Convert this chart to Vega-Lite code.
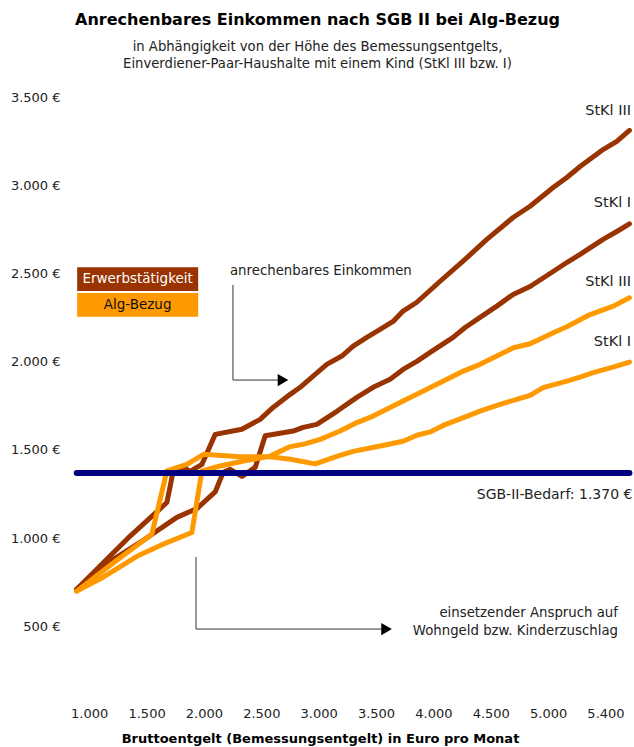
{
  "$schema": "https://vega.github.io/schema/vega-lite/v6.json",
  "width": 561,
  "height": 600,
  "autosize": "none",
  "padding": {"left": 72, "top": 97, "right": 1, "bottom": 50},
  "background": "white",
  "config": {"view": {"stroke": null}, "font": "DejaVu Sans"},
  "title": {
    "text": "Anrechenbares Einkommen nach SGB II bei Alg-Bezug",
    "subtitle": ["in Abhängigkeit von der Höhe des Bemessungsentgelts,", "Einverdiener-Paar-Haushalte mit einem Kind (StKl III bzw. I)"],
    "anchor": "middle",
    "frame": "group",
    "dx": -35,
    "offset": 21,
    "font": "DejaVu Sans",
    "fontSize": 16,
    "fontWeight": "bold",
    "color": "#000000",
    "subtitleFont": "DejaVu Sans",
    "subtitleFontSize": 13.2,
    "subtitleColor": "#222222",
    "subtitlePadding": 13,
    "subtitleLineHeight": 17
  },
  "data": {"values": [{}]},
  "datasets": {
    "lines": [
      {"kind": "Erwerbstätigkeit", "series": "Erwerbstätigkeit StKl III", "x": 891, "y": 711},
      {"kind": "Erwerbstätigkeit", "series": "Erwerbstätigkeit StKl III", "x": 1357, "y": 1012},
      {"kind": "Erwerbstätigkeit", "series": "Erwerbstätigkeit StKl III", "x": 1677, "y": 1202},
      {"kind": "Erwerbstätigkeit", "series": "Erwerbstätigkeit StKl III", "x": 1732, "y": 1379},
      {"kind": "Erwerbstätigkeit", "series": "Erwerbstätigkeit StKl III", "x": 1819, "y": 1401},
      {"kind": "Erwerbstätigkeit", "series": "Erwerbstätigkeit StKl III", "x": 1880, "y": 1379},
      {"kind": "Erwerbstätigkeit", "series": "Erwerbstätigkeit StKl III", "x": 1982, "y": 1418},
      {"kind": "Erwerbstätigkeit", "series": "Erwerbstätigkeit StKl III", "x": 2098, "y": 1588},
      {"kind": "Erwerbstätigkeit", "series": "Erwerbstätigkeit StKl III", "x": 2331, "y": 1617},
      {"kind": "Erwerbstätigkeit", "series": "Erwerbstätigkeit StKl III", "x": 2490, "y": 1673},
      {"kind": "Erwerbstätigkeit", "series": "Erwerbstätigkeit StKl III", "x": 2603, "y": 1741},
      {"kind": "Erwerbstätigkeit", "series": "Erwerbstätigkeit StKl III", "x": 2752, "y": 1815},
      {"kind": "Erwerbstätigkeit", "series": "Erwerbstätigkeit StKl III", "x": 2839, "y": 1855},
      {"kind": "Erwerbstätigkeit", "series": "Erwerbstätigkeit StKl III", "x": 2952, "y": 1918},
      {"kind": "Erwerbstätigkeit", "series": "Erwerbstätigkeit StKl III", "x": 3071, "y": 1985},
      {"kind": "Erwerbstätigkeit", "series": "Erwerbstätigkeit StKl III", "x": 3202, "y": 2032},
      {"kind": "Erwerbstätigkeit", "series": "Erwerbstätigkeit StKl III", "x": 3301, "y": 2088},
      {"kind": "Erwerbstätigkeit", "series": "Erwerbstätigkeit StKl III", "x": 3420, "y": 2138},
      {"kind": "Erwerbstätigkeit", "series": "Erwerbstätigkeit StKl III", "x": 3536, "y": 2183},
      {"kind": "Erwerbstätigkeit", "series": "Erwerbstätigkeit StKl III", "x": 3649, "y": 2228},
      {"kind": "Erwerbstätigkeit", "series": "Erwerbstätigkeit StKl III", "x": 3736, "y": 2287},
      {"kind": "Erwerbstätigkeit", "series": "Erwerbstätigkeit StKl III", "x": 3856, "y": 2337},
      {"kind": "Erwerbstätigkeit", "series": "Erwerbstätigkeit StKl III", "x": 4059, "y": 2456},
      {"kind": "Erwerbstätigkeit", "series": "Erwerbstätigkeit StKl III", "x": 4259, "y": 2570},
      {"kind": "Erwerbstätigkeit", "series": "Erwerbstätigkeit StKl III", "x": 4466, "y": 2693},
      {"kind": "Erwerbstätigkeit", "series": "Erwerbstätigkeit StKl III", "x": 4695, "y": 2817},
      {"kind": "Erwerbstätigkeit", "series": "Erwerbstätigkeit StKl III", "x": 4843, "y": 2881},
      {"kind": "Erwerbstätigkeit", "series": "Erwerbstätigkeit StKl III", "x": 5044, "y": 2987},
      {"kind": "Erwerbstätigkeit", "series": "Erwerbstätigkeit StKl III", "x": 5163, "y": 3044},
      {"kind": "Erwerbstätigkeit", "series": "Erwerbstätigkeit StKl III", "x": 5279, "y": 3106},
      {"kind": "Erwerbstätigkeit", "series": "Erwerbstätigkeit StKl III", "x": 5479, "y": 3202},
      {"kind": "Erwerbstätigkeit", "series": "Erwerbstätigkeit StKl III", "x": 5599, "y": 3249},
      {"kind": "Erwerbstätigkeit", "series": "Erwerbstätigkeit StKl III", "x": 5709, "y": 3311},

      {"kind": "Erwerbstätigkeit", "series": "Erwerbstätigkeit StKl I", "x": 891, "y": 711},
      {"kind": "Erwerbstätigkeit", "series": "Erwerbstätigkeit StKl I", "x": 1183, "y": 869},
      {"kind": "Erwerbstätigkeit", "series": "Erwerbstätigkeit StKl I", "x": 1471, "y": 988},
      {"kind": "Erwerbstätigkeit", "series": "Erwerbstätigkeit StKl I", "x": 1764, "y": 1118},
      {"kind": "Erwerbstätigkeit", "series": "Erwerbstätigkeit StKl I", "x": 1939, "y": 1168},
      {"kind": "Erwerbstätigkeit", "series": "Erwerbstätigkeit StKl I", "x": 2098, "y": 1262},
      {"kind": "Erwerbstätigkeit", "series": "Erwerbstätigkeit StKl I", "x": 2168, "y": 1373},
      {"kind": "Erwerbstätigkeit", "series": "Erwerbstätigkeit StKl I", "x": 2229, "y": 1390},
      {"kind": "Erwerbstätigkeit", "series": "Erwerbstätigkeit StKl I", "x": 2331, "y": 1350},
      {"kind": "Erwerbstätigkeit", "series": "Erwerbstätigkeit StKl I", "x": 2447, "y": 1401},
      {"kind": "Erwerbstätigkeit", "series": "Erwerbstätigkeit StKl I", "x": 2534, "y": 1580},
      {"kind": "Erwerbstätigkeit", "series": "Erwerbstätigkeit StKl I", "x": 2778, "y": 1607},
      {"kind": "Erwerbstätigkeit", "series": "Erwerbstätigkeit StKl I", "x": 2865, "y": 1628},
      {"kind": "Erwerbstätigkeit", "series": "Erwerbstätigkeit StKl I", "x": 2984, "y": 1645},
      {"kind": "Erwerbstätigkeit", "series": "Erwerbstätigkeit StKl I", "x": 3159, "y": 1719},
      {"kind": "Erwerbstätigkeit", "series": "Erwerbstätigkeit StKl I", "x": 3333, "y": 1798},
      {"kind": "Erwerbstätigkeit", "series": "Erwerbstätigkeit StKl I", "x": 3475, "y": 1855},
      {"kind": "Erwerbstätigkeit", "series": "Erwerbstätigkeit StKl I", "x": 3623, "y": 1900},
      {"kind": "Erwerbstätigkeit", "series": "Erwerbstätigkeit StKl I", "x": 3736, "y": 1956},
      {"kind": "Erwerbstätigkeit", "series": "Erwerbstätigkeit StKl I", "x": 3856, "y": 2002},
      {"kind": "Erwerbstätigkeit", "series": "Erwerbstätigkeit StKl I", "x": 3972, "y": 2053},
      {"kind": "Erwerbstätigkeit", "series": "Erwerbstätigkeit StKl I", "x": 4172, "y": 2138},
      {"kind": "Erwerbstätigkeit", "series": "Erwerbstätigkeit StKl I", "x": 4277, "y": 2194},
      {"kind": "Erwerbstätigkeit", "series": "Erwerbstätigkeit StKl I", "x": 4407, "y": 2251},
      {"kind": "Erwerbstätigkeit", "series": "Erwerbstätigkeit StKl I", "x": 4553, "y": 2315},
      {"kind": "Erwerbstätigkeit", "series": "Erwerbstätigkeit StKl I", "x": 4695, "y": 2381},
      {"kind": "Erwerbstätigkeit", "series": "Erwerbstätigkeit StKl I", "x": 4843, "y": 2426},
      {"kind": "Erwerbstätigkeit", "series": "Erwerbstätigkeit StKl I", "x": 5044, "y": 2511},
      {"kind": "Erwerbstätigkeit", "series": "Erwerbstätigkeit StKl I", "x": 5163, "y": 2562},
      {"kind": "Erwerbstätigkeit", "series": "Erwerbstätigkeit StKl I", "x": 5279, "y": 2608},
      {"kind": "Erwerbstätigkeit", "series": "Erwerbstätigkeit StKl I", "x": 5479, "y": 2693},
      {"kind": "Erwerbstätigkeit", "series": "Erwerbstätigkeit StKl I", "x": 5599, "y": 2738},
      {"kind": "Erwerbstätigkeit", "series": "Erwerbstätigkeit StKl I", "x": 5709, "y": 2781},

      {"kind": "Alg-Bezug", "series": "Alg-Bezug StKl III", "x": 891, "y": 700},
      {"kind": "Alg-Bezug", "series": "Alg-Bezug StKl III", "x": 1122, "y": 779},
      {"kind": "Alg-Bezug", "series": "Alg-Bezug StKl III", "x": 1416, "y": 897},
      {"kind": "Alg-Bezug", "series": "Alg-Bezug StKl III", "x": 1677, "y": 975},
      {"kind": "Alg-Bezug", "series": "Alg-Bezug StKl III", "x": 1895, "y": 1032},
      {"kind": "Alg-Bezug", "series": "Alg-Bezug StKl III", "x": 1982, "y": 1381},
      {"kind": "Alg-Bezug", "series": "Alg-Bezug StKl III", "x": 2142, "y": 1409},
      {"kind": "Alg-Bezug", "series": "Alg-Bezug StKl III", "x": 2345, "y": 1437},
      {"kind": "Alg-Bezug", "series": "Alg-Bezug StKl III", "x": 2577, "y": 1465},
      {"kind": "Alg-Bezug", "series": "Alg-Bezug StKl III", "x": 2752, "y": 1519},
      {"kind": "Alg-Bezug", "series": "Alg-Bezug StKl III", "x": 2865, "y": 1532},
      {"kind": "Alg-Bezug", "series": "Alg-Bezug StKl III", "x": 3013, "y": 1560},
      {"kind": "Alg-Bezug", "series": "Alg-Bezug StKl III", "x": 3187, "y": 1607},
      {"kind": "Alg-Bezug", "series": "Alg-Bezug StKl III", "x": 3333, "y": 1655},
      {"kind": "Alg-Bezug", "series": "Alg-Bezug StKl III", "x": 3475, "y": 1692},
      {"kind": "Alg-Bezug", "series": "Alg-Bezug StKl III", "x": 3623, "y": 1740},
      {"kind": "Alg-Bezug", "series": "Alg-Bezug StKl III", "x": 3736, "y": 1777},
      {"kind": "Alg-Bezug", "series": "Alg-Bezug StKl III", "x": 3856, "y": 1815},
      {"kind": "Alg-Bezug", "series": "Alg-Bezug StKl III", "x": 4000, "y": 1862},
      {"kind": "Alg-Bezug", "series": "Alg-Bezug StKl III", "x": 4262, "y": 1947},
      {"kind": "Alg-Bezug", "series": "Alg-Bezug StKl III", "x": 4407, "y": 1985},
      {"kind": "Alg-Bezug", "series": "Alg-Bezug StKl III", "x": 4553, "y": 2032},
      {"kind": "Alg-Bezug", "series": "Alg-Bezug StKl III", "x": 4698, "y": 2079},
      {"kind": "Alg-Bezug", "series": "Alg-Bezug StKl III", "x": 4843, "y": 2102},
      {"kind": "Alg-Bezug", "series": "Alg-Bezug StKl III", "x": 5046, "y": 2164},
      {"kind": "Alg-Bezug", "series": "Alg-Bezug StKl III", "x": 5163, "y": 2198},
      {"kind": "Alg-Bezug", "series": "Alg-Bezug StKl III", "x": 5366, "y": 2267},
      {"kind": "Alg-Bezug", "series": "Alg-Bezug StKl III", "x": 5569, "y": 2315},
      {"kind": "Alg-Bezug", "series": "Alg-Bezug StKl III", "x": 5709, "y": 2362},

      {"kind": "Alg-Bezug", "series": "Alg-Bezug StKl I", "x": 891, "y": 700},
      {"kind": "Alg-Bezug", "series": "Alg-Bezug StKl I", "x": 1220, "y": 865},
      {"kind": "Alg-Bezug", "series": "Alg-Bezug StKl I", "x": 1546, "y": 1022},
      {"kind": "Alg-Bezug", "series": "Alg-Bezug StKl I", "x": 1677, "y": 1381},
      {"kind": "Alg-Bezug", "series": "Alg-Bezug StKl I", "x": 1851, "y": 1418},
      {"kind": "Alg-Bezug", "series": "Alg-Bezug StKl I", "x": 1996, "y": 1475},
      {"kind": "Alg-Bezug", "series": "Alg-Bezug StKl I", "x": 2316, "y": 1462},
      {"kind": "Alg-Bezug", "series": "Alg-Bezug StKl I", "x": 2577, "y": 1462},
      {"kind": "Alg-Bezug", "series": "Alg-Bezug StKl I", "x": 2752, "y": 1447},
      {"kind": "Alg-Bezug", "series": "Alg-Bezug StKl I", "x": 2970, "y": 1421},
      {"kind": "Alg-Bezug", "series": "Alg-Bezug StKl I", "x": 3159, "y": 1464},
      {"kind": "Alg-Bezug", "series": "Alg-Bezug StKl I", "x": 3301, "y": 1492},
      {"kind": "Alg-Bezug", "series": "Alg-Bezug StKl I", "x": 3536, "y": 1522},
      {"kind": "Alg-Bezug", "series": "Alg-Bezug StKl I", "x": 3736, "y": 1549},
      {"kind": "Alg-Bezug", "series": "Alg-Bezug StKl I", "x": 3856, "y": 1583},
      {"kind": "Alg-Bezug", "series": "Alg-Bezug StKl I", "x": 3972, "y": 1602},
      {"kind": "Alg-Bezug", "series": "Alg-Bezug StKl I", "x": 4085, "y": 1639},
      {"kind": "Alg-Bezug", "series": "Alg-Bezug StKl I", "x": 4262, "y": 1683},
      {"kind": "Alg-Bezug", "series": "Alg-Bezug StKl I", "x": 4407, "y": 1720},
      {"kind": "Alg-Bezug", "series": "Alg-Bezug StKl I", "x": 4582, "y": 1758},
      {"kind": "Alg-Bezug", "series": "Alg-Bezug StKl I", "x": 4727, "y": 1787},
      {"kind": "Alg-Bezug", "series": "Alg-Bezug StKl I", "x": 4843, "y": 1809},
      {"kind": "Alg-Bezug", "series": "Alg-Bezug StKl I", "x": 4956, "y": 1853},
      {"kind": "Alg-Bezug", "series": "Alg-Bezug StKl I", "x": 5163, "y": 1890},
      {"kind": "Alg-Bezug", "series": "Alg-Bezug StKl I", "x": 5279, "y": 1913},
      {"kind": "Alg-Bezug", "series": "Alg-Bezug StKl I", "x": 5392, "y": 1938},
      {"kind": "Alg-Bezug", "series": "Alg-Bezug StKl I", "x": 5566, "y": 1969},
      {"kind": "Alg-Bezug", "series": "Alg-Bezug StKl I", "x": 5709, "y": 1998}
    ],
    "bedarf": [
      {"series": "SGB-II-Bedarf", "x": 891, "y": 1370},
      {"series": "SGB-II-Bedarf", "x": 5709, "y": 1370}
    ]
  },
  "layer": [
    {
      "data": {"name": "lines"},
      "transform": [{"filter": "datum.kind == 'Erwerbstätigkeit'"}],
      "mark": {"type": "line", "color": "#993300", "strokeWidth": 5, "strokeCap": "round", "strokeJoin": "round"},
      "encoding": {
        "x": {
          "field": "x", "type": "quantitative",
          "scale": {"domain": [850, 5740], "nice": false, "zero": false},
          "axis": {
            "values": [1000, 1500, 2000, 2500, 3000, 3500, 4000, 4500, 5000, 5500],
            "labelExpr": "datum.value == 5500 ? '5.400' : replace(format(datum.value, ','), ',', '.')",
            "grid": false, "ticks": false, "domain": false,
            "labelFont": "DejaVu Sans", "labelFontSize": 13, "labelColor": "#222222", "labelPadding": 10,
            "title": "Bruttoentgelt (Bemessungsentgelt) in Euro pro Monat",
            "titleFont": "DejaVu Sans", "titleFontSize": 13, "titleFontWeight": "bold", "titleColor": "#000000",
            "titleX": 248, "titleY": 41, "titleAlign": "center", "titleBaseline": "middle"
          }
        },
        "y": {
          "field": "y", "type": "quantitative",
          "scale": {"domain": [100, 3500], "nice": false, "zero": false},
          "axis": {
            "values": [500, 1000, 1500, 2000, 2500, 3000, 3500],
            "labelExpr": "replace(format(datum.value, ','), ',', '.') + ' €'",
            "grid": false, "ticks": false, "domain": false,
            "labelFont": "DejaVu Sans", "labelFontSize": 13, "labelColor": "#222222", "labelPadding": 12,
            "title": null
          }
        },
        "detail": {"field": "series"}
      }
    },
    {
      "data": {"name": "lines"},
      "transform": [{"filter": "datum.kind == 'Alg-Bezug'"}],
      "mark": {"type": "line", "color": "#FF9900", "strokeWidth": 5, "strokeCap": "round", "strokeJoin": "round"},
      "encoding": {
        "x": {"field": "x", "type": "quantitative"},
        "y": {"field": "y", "type": "quantitative"},
        "detail": {"field": "series"}
      }
    },
    {
      "data": {"name": "bedarf"},
      "mark": {"type": "line", "color": "#000080", "strokeWidth": 6, "strokeCap": "round"},
      "encoding": {
        "x": {"field": "x", "type": "quantitative"},
        "y": {"field": "y", "type": "quantitative"}
      }
    },
    {
      "mark": {"type": "rect", "color": "#993300"},
      "encoding": {
        "x": {"datum": 895, "type": "quantitative"}, "x2": {"datum": 1950},
        "y": {"datum": 2535, "type": "quantitative"}, "y2": {"datum": 2400}
      }
    },
    {
      "mark": {"type": "rect", "color": "#FF9900"},
      "encoding": {
        "x": {"datum": 895, "type": "quantitative"}, "x2": {"datum": 1950},
        "y": {"datum": 2390, "type": "quantitative"}, "y2": {"datum": 2255}
      }
    },
    {
      "mark": {"type": "text", "text": "Erwerbstätigkeit", "color": "#ffffff", "fontSize": 13.5, "align": "center", "baseline": "middle"},
      "encoding": {
        "x": {"datum": 1422, "type": "quantitative"},
        "y": {"datum": 2467, "type": "quantitative"}
      }
    },
    {
      "mark": {"type": "text", "text": "Alg-Bezug", "color": "#111111", "fontSize": 13.5, "align": "center", "baseline": "middle"},
      "encoding": {
        "x": {"datum": 1422, "type": "quantitative"},
        "y": {"datum": 2322, "type": "quantitative"}
      }
    },
    {
      "mark": {"type": "rule", "color": "#333333", "strokeWidth": 1},
      "encoding": {
        "x": {"datum": 2253, "type": "quantitative"},
        "y": {"datum": 2435, "type": "quantitative"}, "y2": {"datum": 1896}
      }
    },
    {
      "mark": {"type": "rule", "color": "#333333", "strokeWidth": 1},
      "encoding": {
        "x": {"datum": 2253, "type": "quantitative"}, "x2": {"datum": 2660},
        "y": {"datum": 1896, "type": "quantitative"}
      }
    },
    {
      "mark": {"type": "point", "shape": "triangle-right", "filled": true, "color": "#000000", "opacity": 1, "size": 150},
      "encoding": {
        "x": {"datum": 2689, "type": "quantitative"},
        "y": {"datum": 1896, "type": "quantitative"}
      }
    },
    {
      "mark": {"type": "rule", "color": "#333333", "strokeWidth": 1},
      "encoding": {
        "x": {"datum": 1931, "type": "quantitative"},
        "y": {"datum": 893, "type": "quantitative"}, "y2": {"datum": 485}
      }
    },
    {
      "mark": {"type": "rule", "color": "#333333", "strokeWidth": 1},
      "encoding": {
        "x": {"datum": 1931, "type": "quantitative"}, "x2": {"datum": 3565},
        "y": {"datum": 485, "type": "quantitative"}
      }
    },
    {
      "mark": {"type": "point", "shape": "triangle-right", "filled": true, "color": "#000000", "opacity": 1, "size": 150},
      "encoding": {
        "x": {"datum": 3592, "type": "quantitative"},
        "y": {"datum": 485, "type": "quantitative"}
      }
    },
    {
      "mark": {"type": "text", "text": "anrechenbares Einkommen", "color": "#222222", "fontSize": 13.3, "align": "left", "baseline": "middle"},
      "encoding": {
        "x": {"datum": 2227, "type": "quantitative"},
        "y": {"datum": 2514, "type": "quantitative"}
      }
    },
    {
      "mark": {"type": "text", "text": ["einsetzender Anspruch auf", "Wohngeld bzw. Kinderzuschlag"], "lineHeight": 18, "color": "#222222", "fontSize": 13.3, "align": "right", "baseline": "middle"},
      "encoding": {
        "x": {"datum": 5609, "type": "quantitative"},
        "y": {"datum": 576, "type": "quantitative"}
      }
    },
    {
      "mark": {"type": "text", "text": "SGB-II-Bedarf: 1.370 €", "color": "#222222", "fontSize": 14, "align": "right", "baseline": "middle"},
      "encoding": {
        "x": {"datum": 5735, "type": "quantitative"},
        "y": {"datum": 1245, "type": "quantitative"}
      }
    },
    {
      "mark": {"type": "text", "text": "StKl III", "color": "#222222", "fontSize": 14.5, "align": "right", "baseline": "middle"},
      "encoding": {
        "x": {"datum": 5723, "type": "quantitative"},
        "y": {"datum": 3422, "type": "quantitative"}
      }
    },
    {
      "mark": {"type": "text", "text": "StKl I", "color": "#222222", "fontSize": 14.5, "align": "right", "baseline": "middle"},
      "encoding": {
        "x": {"datum": 5723, "type": "quantitative"},
        "y": {"datum": 2901, "type": "quantitative"}
      }
    },
    {
      "mark": {"type": "text", "text": "StKl III", "color": "#222222", "fontSize": 14.5, "align": "right", "baseline": "middle"},
      "encoding": {
        "x": {"datum": 5723, "type": "quantitative"},
        "y": {"datum": 2453, "type": "quantitative"}
      }
    },
    {
      "mark": {"type": "text", "text": "StKl I", "color": "#222222", "fontSize": 14.5, "align": "right", "baseline": "middle"},
      "encoding": {
        "x": {"datum": 5723, "type": "quantitative"},
        "y": {"datum": 2110, "type": "quantitative"}
      }
    }
  ]
}
